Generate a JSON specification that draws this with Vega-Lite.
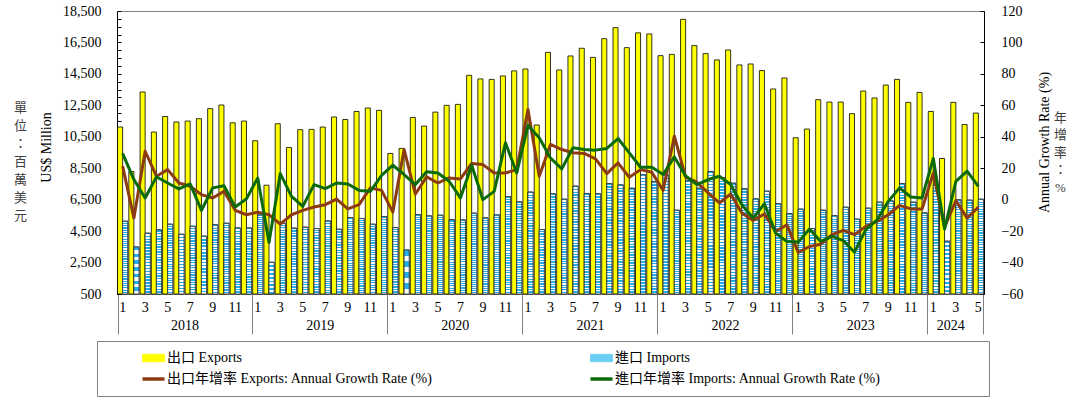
{
  "$schema": "https://vega.github.io/schema/vega-lite/v6.json",
  "width": 867,
  "height": 283,
  "autosize": {"type": "none"},
  "padding": {"left": 117, "top": 11, "right": 82, "bottom": 112},
  "background": "white",
  "config": {
    "font": "Liberation Serif, Noto Sans CJK TC",
    "view": {"stroke": "#808080", "strokeWidth": 1},
    "axis": {
      "labelFont": "Liberation Serif, Noto Sans CJK TC",
      "titleFont": "Liberation Serif, Noto Sans CJK TC",
      "labelFontSize": 14,
      "titleFontSize": 14,
      "labelColor": "black",
      "titleColor": "black",
      "titleFontWeight": "normal",
      "grid": false
    },
    "legend": {
      "labelFont": "Liberation Serif, Noto Sans CJK TC",
      "labelFontSize": 14,
      "labelColor": "black",
      "labelLimit": 600
    }
  },
  "data": {
    "values": [
      {"m": "2018-01", "ex": 11120, "im": 5130, "exg": 21.3, "img": 29.4},
      {"m": "2018-02", "ex": 8290, "im": 3490, "exg": -11.7, "img": 12.8},
      {"m": "2018-03", "ex": 13350, "im": 4370, "exg": 30.8, "img": 1.1},
      {"m": "2018-04", "ex": 10800, "im": 4580, "exg": 14.9, "img": 14.5},
      {"m": "2018-05", "ex": 11790, "im": 4940, "exg": 19.1, "img": 10.6},
      {"m": "2018-06", "ex": 11440, "im": 4300, "exg": 10.6, "img": 6.8},
      {"m": "2018-07", "ex": 11500, "im": 4810, "exg": 8.5, "img": 10.0},
      {"m": "2018-08", "ex": 11650, "im": 4180, "exg": 3.2, "img": -6.8},
      {"m": "2018-09", "ex": 12290, "im": 4900, "exg": 1.1, "img": 7.5},
      {"m": "2018-10", "ex": 12520, "im": 5000, "exg": 5.3, "img": 8.9},
      {"m": "2018-11", "ex": 11390, "im": 4700, "exg": -6.8, "img": -4.7},
      {"m": "2018-12", "ex": 11500, "im": 4700, "exg": -9.6, "img": 0.6},
      {"m": "2019-01", "ex": 10250, "im": 5530, "exg": -7.9, "img": 13.8},
      {"m": "2019-02", "ex": 7420, "im": 2520, "exg": -9.6, "img": -27.2},
      {"m": "2019-03", "ex": 11330, "im": 5000, "exg": -15.5, "img": 16.6},
      {"m": "2019-04", "ex": 9820, "im": 4690, "exg": -9.6, "img": 2.1},
      {"m": "2019-05", "ex": 10950, "im": 4750, "exg": -6.8, "img": -4.3},
      {"m": "2019-06", "ex": 10970, "im": 4660, "exg": -4.7, "img": 9.6},
      {"m": "2019-07", "ex": 11120, "im": 5150, "exg": -3.2, "img": 7.0},
      {"m": "2019-08", "ex": 11760, "im": 4620, "exg": 0.4, "img": 10.6},
      {"m": "2019-09", "ex": 11600, "im": 5360, "exg": -5.9, "img": 10.0},
      {"m": "2019-10", "ex": 12110, "im": 5300, "exg": -3.2, "img": 5.9},
      {"m": "2019-11", "ex": 12330, "im": 4940, "exg": 7.5, "img": 5.3},
      {"m": "2019-12", "ex": 12180, "im": 5420, "exg": 5.9, "img": 15.5},
      {"m": "2020-01", "ex": 9440, "im": 4720, "exg": -7.9, "img": 21.9},
      {"m": "2020-02", "ex": 9760, "im": 3300, "exg": 31.9, "img": 16.0},
      {"m": "2020-03", "ex": 11730, "im": 5550, "exg": 3.6, "img": 9.6},
      {"m": "2020-04", "ex": 11180, "im": 5470, "exg": 14.5, "img": 17.7},
      {"m": "2020-05", "ex": 12070, "im": 5510, "exg": 10.6, "img": 17.0},
      {"m": "2020-06", "ex": 12500, "im": 5230, "exg": 13.8, "img": 11.7},
      {"m": "2020-07", "ex": 12560, "im": 5210, "exg": 13.2, "img": 1.1},
      {"m": "2020-08", "ex": 14410, "im": 5640, "exg": 23.0, "img": 21.9},
      {"m": "2020-09", "ex": 14180, "im": 5340, "exg": 22.3, "img": 0.0},
      {"m": "2020-10", "ex": 14150, "im": 5530, "exg": 17.0, "img": 5.3},
      {"m": "2020-11", "ex": 14370, "im": 6700, "exg": 17.0, "img": 36.2},
      {"m": "2020-12", "ex": 14690, "im": 6360, "exg": 19.1, "img": 17.0},
      {"m": "2021-01", "ex": 14810, "im": 6980, "exg": 57.4, "img": 47.2},
      {"m": "2021-02", "ex": 11250, "im": 4600, "exg": 14.9, "img": 39.4},
      {"m": "2021-03", "ex": 15870, "im": 6870, "exg": 35.1, "img": 26.5},
      {"m": "2021-04", "ex": 14750, "im": 6530, "exg": 31.9, "img": 19.6},
      {"m": "2021-05", "ex": 15640, "im": 7360, "exg": 29.8, "img": 33.0},
      {"m": "2021-06", "ex": 16130, "im": 6890, "exg": 29.4, "img": 31.9},
      {"m": "2021-07", "ex": 15550, "im": 6870, "exg": 26.0, "img": 31.5},
      {"m": "2021-08", "ex": 16740, "im": 7530, "exg": 16.6, "img": 32.6},
      {"m": "2021-09", "ex": 17440, "im": 7440, "exg": 23.4, "img": 38.9},
      {"m": "2021-10", "ex": 16170, "im": 7230, "exg": 14.2, "img": 29.8},
      {"m": "2021-11", "ex": 17110, "im": 8080, "exg": 19.1, "img": 20.6},
      {"m": "2021-12", "ex": 17040, "im": 7650, "exg": 17.4, "img": 20.6},
      {"m": "2022-01", "ex": 15660, "im": 8080, "exg": 5.9, "img": 16.0},
      {"m": "2022-02", "ex": 15740, "im": 5830, "exg": 40.4, "img": 27.2},
      {"m": "2022-03", "ex": 17970, "im": 7700, "exg": 14.3, "img": 15.1},
      {"m": "2022-04", "ex": 16300, "im": 7230, "exg": 11.1, "img": 9.6},
      {"m": "2022-05", "ex": 15790, "im": 8290, "exg": 4.3, "img": 12.8},
      {"m": "2022-06", "ex": 15390, "im": 7900, "exg": -2.1, "img": 14.9},
      {"m": "2022-07", "ex": 16020, "im": 7550, "exg": 3.6, "img": 9.6},
      {"m": "2022-08", "ex": 15070, "im": 7200, "exg": -8.5, "img": -3.2},
      {"m": "2022-09", "ex": 15130, "im": 6550, "exg": -13.2, "img": -11.7},
      {"m": "2022-10", "ex": 14710, "im": 7040, "exg": -9.1, "img": -2.6},
      {"m": "2022-11", "ex": 13540, "im": 6250, "exg": -20.2, "img": -21.3},
      {"m": "2022-12", "ex": 14240, "im": 5620, "exg": -16.0, "img": -26.6},
      {"m": "2023-01", "ex": 10440, "im": 5900, "exg": -33.6, "img": -27.0},
      {"m": "2023-02", "ex": 10990, "im": 4660, "exg": -29.8, "img": -18.7},
      {"m": "2023-03", "ex": 12860, "im": 5830, "exg": -28.3, "img": -26.6},
      {"m": "2023-04", "ex": 12710, "im": 5490, "exg": -22.3, "img": -23.4},
      {"m": "2023-05", "ex": 12710, "im": 6020, "exg": -19.5, "img": -26.0},
      {"m": "2023-06", "ex": 11970, "im": 5260, "exg": -22.3, "img": -33.4},
      {"m": "2023-07", "ex": 13410, "im": 5960, "exg": -17.0, "img": -19.1},
      {"m": "2023-08", "ex": 12970, "im": 6340, "exg": -13.8, "img": -12.8},
      {"m": "2023-09", "ex": 13790, "im": 6420, "exg": -9.6, "img": -1.1},
      {"m": "2023-10", "ex": 14150, "im": 7530, "exg": -3.6, "img": 7.5},
      {"m": "2023-11", "ex": 12690, "im": 6340, "exg": -5.9, "img": 1.7},
      {"m": "2023-12", "ex": 13320, "im": 5660, "exg": -5.9, "img": 1.1},
      {"m": "2024-01", "ex": 12110, "im": 7440, "exg": 17.0, "img": 26.2},
      {"m": "2024-02", "ex": 9120, "im": 3860, "exg": -17.5, "img": -18.7},
      {"m": "2024-03", "ex": 12690, "im": 6490, "exg": -0.6, "img": 11.7},
      {"m": "2024-04", "ex": 11280, "im": 6470, "exg": -11.7, "img": 18.1},
      {"m": "2024-05", "ex": 12010, "im": 6530, "exg": -4.7, "img": 8.5}
    ]
  },
  "layer": [
    {
      "transform": [{"fold": ["ex", "im"], "as": ["s", "v"]}],
      "mark": {"type": "bar", "stroke": "black", "strokeWidth": 0.8},
      "encoding": {
        "x": {
          "field": "m",
          "type": "ordinal",
          "scale": {"paddingInner": 0.1, "paddingOuter": 0.05},
          "axis": {
            "orient": "bottom",
            "title": null,
            "labelAngle": 0,
            "labelExpr": "isString(datum.value) && toNumber(slice(datum.value, 5)) % 2 == 1 ? '' + toNumber(slice(datum.value, 5)) : ''",
            "ticks": false,
            "domain": true,
            "domainColor": "#808080",
            "labelPadding": 6,
            "labelOverlap": false,
            "labelBound": false
          }
        },
        "xOffset": {"field": "s", "scale": {"domain": ["ex", "im"], "paddingInner": 0, "paddingOuter": 0}},
        "y": {
          "field": "v",
          "type": "quantitative",
          "scale": {"domain": [500, 18500], "nice": false, "zero": false},
          "axis": {
            "orient": "left",
            "values": [500, 1000, 1500, 2000, 2500, 3000, 3500, 4000, 4500, 5000, 5500, 6000, 6500, 7000, 7500, 8000, 8500, 9000, 9500, 10000, 10500, 11000, 11500, 12000, 12500, 13000, 13500, 14000, 14500, 15000, 15500, 16000, 16500, 17000, 17500, 18000, 18500],
            "labelExpr": "(datum.value - 500) % 2000 == 0 ? format(datum.value, ',') : ''",
            "tickSize": -4,
            "tickColor": "black",
            "domainColor": "black",
            "labelPadding": 20,
            "labelOverlap": false,
            "title": "US$ Million",
            "titleAngle": -90,
            "titleX": -71,
            "titleY": 136,
            "titleAlign": "center",
            "titleBaseline": "middle"
          }
        },
        "y2": {"datum": 500},
        "color": {
          "field": "s",
          "type": "nominal",
          "scale": {"domain": ["ex", "im", "exg", "img"], "range": ["#FFFF00", "#6CCDF3", "#8C3B10", "#0B6B0B"]},
          "legend": {
            "orient": "none",
            "legendX": -20,
            "legendY": 330,
            "direction": "horizontal",
            "columns": 2,
            "columnPadding": 122,
            "rowPadding": 7,
            "padding": 10,
            "symbolOffset": 39.5,
            "labelOffset": 6.5,
            "title": null,
            "strokeColor": "#808080",
            "symbolSize": 225,
            "symbolType": "M-1.47,-0.5H1.47V0.5H-1.47Z",
            "symbolStrokeWidth": 0.8,
            "labelExpr": "datum.value == 'ex' ? '出口 Exports' : datum.value == 'im' ? '進口 Imports' : datum.value == 'exg' ? '出口年增率 Exports: Annual Growth Rate (%)' : '進口年增率 Imports: Annual Growth Rate (%)\u2003\u2003\u2003\u2003\u2003\u2003\u2003\u200B'",
            "encode": {
              "symbols": {
                "update": {
                  "shape": {"signal": "datum.value == 'ex' || datum.value == 'im' ? 'M-1.47,-0.5H1.47V0.5H-1.47Z' : 'M-1.47,0H1.47'"},
                  "fill": {"signal": "datum.value == 'ex' ? '#FFFF00' : datum.value == 'im' ? '#6CCDF3' : 'transparent'"},
                  "stroke": {"signal": "datum.value == 'ex' ? 'black' : datum.value == 'im' ? '#404040' : datum.value == 'exg' ? '#8C3B10' : '#0B6B0B'"},
                  "strokeWidth": {"signal": "datum.value == 'ex' || datum.value == 'im' ? 0.8 : 3.5"},
                  "opacity": {"value": 1}
                }
              }
            }
          }
        }
      }
    },
    {
      "transform": [{"fold": ["im"], "as": ["s", "v"]}],
      "mark": {
        "type": "bar",
        "stroke": "#404040",
        "strokeWidth": 0.8,
        "fill": {
          "gradient": "linear",
          "x1": 0, "y1": 0, "x2": 0, "y2": 1,
          "stops": [
            {"offset": 0, "color": "#22AEEA"}, {"offset": 0.0125, "color": "#22AEEA"}, {"offset": 0.0125, "color": "#FFFFFF"}, {"offset": 0.025, "color": "#FFFFFF"},
            {"offset": 0.025, "color": "#22AEEA"}, {"offset": 0.0375, "color": "#22AEEA"}, {"offset": 0.0375, "color": "#FFFFFF"}, {"offset": 0.05, "color": "#FFFFFF"},
            {"offset": 0.05, "color": "#22AEEA"}, {"offset": 0.0625, "color": "#22AEEA"}, {"offset": 0.0625, "color": "#FFFFFF"}, {"offset": 0.075, "color": "#FFFFFF"},
            {"offset": 0.075, "color": "#22AEEA"}, {"offset": 0.0875, "color": "#22AEEA"}, {"offset": 0.0875, "color": "#FFFFFF"}, {"offset": 0.1, "color": "#FFFFFF"},
            {"offset": 0.1, "color": "#22AEEA"}, {"offset": 0.1125, "color": "#22AEEA"}, {"offset": 0.1125, "color": "#FFFFFF"}, {"offset": 0.125, "color": "#FFFFFF"},
            {"offset": 0.125, "color": "#22AEEA"}, {"offset": 0.1375, "color": "#22AEEA"}, {"offset": 0.1375, "color": "#FFFFFF"}, {"offset": 0.15, "color": "#FFFFFF"},
            {"offset": 0.15, "color": "#22AEEA"}, {"offset": 0.1625, "color": "#22AEEA"}, {"offset": 0.1625, "color": "#FFFFFF"}, {"offset": 0.175, "color": "#FFFFFF"},
            {"offset": 0.175, "color": "#22AEEA"}, {"offset": 0.1875, "color": "#22AEEA"}, {"offset": 0.1875, "color": "#FFFFFF"}, {"offset": 0.2, "color": "#FFFFFF"},
            {"offset": 0.2, "color": "#22AEEA"}, {"offset": 0.2125, "color": "#22AEEA"}, {"offset": 0.2125, "color": "#FFFFFF"}, {"offset": 0.225, "color": "#FFFFFF"},
            {"offset": 0.225, "color": "#22AEEA"}, {"offset": 0.2375, "color": "#22AEEA"}, {"offset": 0.2375, "color": "#FFFFFF"}, {"offset": 0.25, "color": "#FFFFFF"},
            {"offset": 0.25, "color": "#22AEEA"}, {"offset": 0.2625, "color": "#22AEEA"}, {"offset": 0.2625, "color": "#FFFFFF"}, {"offset": 0.275, "color": "#FFFFFF"},
            {"offset": 0.275, "color": "#22AEEA"}, {"offset": 0.2875, "color": "#22AEEA"}, {"offset": 0.2875, "color": "#FFFFFF"}, {"offset": 0.3, "color": "#FFFFFF"},
            {"offset": 0.3, "color": "#22AEEA"}, {"offset": 0.3125, "color": "#22AEEA"}, {"offset": 0.3125, "color": "#FFFFFF"}, {"offset": 0.325, "color": "#FFFFFF"},
            {"offset": 0.325, "color": "#22AEEA"}, {"offset": 0.3375, "color": "#22AEEA"}, {"offset": 0.3375, "color": "#FFFFFF"}, {"offset": 0.35, "color": "#FFFFFF"},
            {"offset": 0.35, "color": "#22AEEA"}, {"offset": 0.3625, "color": "#22AEEA"}, {"offset": 0.3625, "color": "#FFFFFF"}, {"offset": 0.375, "color": "#FFFFFF"},
            {"offset": 0.375, "color": "#22AEEA"}, {"offset": 0.3875, "color": "#22AEEA"}, {"offset": 0.3875, "color": "#FFFFFF"}, {"offset": 0.4, "color": "#FFFFFF"},
            {"offset": 0.4, "color": "#22AEEA"}, {"offset": 0.4125, "color": "#22AEEA"}, {"offset": 0.4125, "color": "#FFFFFF"}, {"offset": 0.425, "color": "#FFFFFF"},
            {"offset": 0.425, "color": "#22AEEA"}, {"offset": 0.4375, "color": "#22AEEA"}, {"offset": 0.4375, "color": "#FFFFFF"}, {"offset": 0.45, "color": "#FFFFFF"},
            {"offset": 0.45, "color": "#22AEEA"}, {"offset": 0.4625, "color": "#22AEEA"}, {"offset": 0.4625, "color": "#FFFFFF"}, {"offset": 0.475, "color": "#FFFFFF"},
            {"offset": 0.475, "color": "#22AEEA"}, {"offset": 0.4875, "color": "#22AEEA"}, {"offset": 0.4875, "color": "#FFFFFF"}, {"offset": 0.5, "color": "#FFFFFF"},
            {"offset": 0.5, "color": "#22AEEA"}, {"offset": 0.5125, "color": "#22AEEA"}, {"offset": 0.5125, "color": "#FFFFFF"}, {"offset": 0.525, "color": "#FFFFFF"},
            {"offset": 0.525, "color": "#22AEEA"}, {"offset": 0.5375, "color": "#22AEEA"}, {"offset": 0.5375, "color": "#FFFFFF"}, {"offset": 0.55, "color": "#FFFFFF"},
            {"offset": 0.55, "color": "#22AEEA"}, {"offset": 0.5625, "color": "#22AEEA"}, {"offset": 0.5625, "color": "#FFFFFF"}, {"offset": 0.575, "color": "#FFFFFF"},
            {"offset": 0.575, "color": "#22AEEA"}, {"offset": 0.5875, "color": "#22AEEA"}, {"offset": 0.5875, "color": "#FFFFFF"}, {"offset": 0.6, "color": "#FFFFFF"},
            {"offset": 0.6, "color": "#22AEEA"}, {"offset": 0.6125, "color": "#22AEEA"}, {"offset": 0.6125, "color": "#FFFFFF"}, {"offset": 0.625, "color": "#FFFFFF"},
            {"offset": 0.625, "color": "#22AEEA"}, {"offset": 0.6375, "color": "#22AEEA"}, {"offset": 0.6375, "color": "#FFFFFF"}, {"offset": 0.65, "color": "#FFFFFF"},
            {"offset": 0.65, "color": "#22AEEA"}, {"offset": 0.6625, "color": "#22AEEA"}, {"offset": 0.6625, "color": "#FFFFFF"}, {"offset": 0.675, "color": "#FFFFFF"},
            {"offset": 0.675, "color": "#22AEEA"}, {"offset": 0.6875, "color": "#22AEEA"}, {"offset": 0.6875, "color": "#FFFFFF"}, {"offset": 0.7, "color": "#FFFFFF"},
            {"offset": 0.7, "color": "#22AEEA"}, {"offset": 0.7125, "color": "#22AEEA"}, {"offset": 0.7125, "color": "#FFFFFF"}, {"offset": 0.725, "color": "#FFFFFF"},
            {"offset": 0.725, "color": "#22AEEA"}, {"offset": 0.7375, "color": "#22AEEA"}, {"offset": 0.7375, "color": "#FFFFFF"}, {"offset": 0.75, "color": "#FFFFFF"},
            {"offset": 0.75, "color": "#22AEEA"}, {"offset": 0.7625, "color": "#22AEEA"}, {"offset": 0.7625, "color": "#FFFFFF"}, {"offset": 0.775, "color": "#FFFFFF"},
            {"offset": 0.775, "color": "#22AEEA"}, {"offset": 0.7875, "color": "#22AEEA"}, {"offset": 0.7875, "color": "#FFFFFF"}, {"offset": 0.8, "color": "#FFFFFF"},
            {"offset": 0.8, "color": "#22AEEA"}, {"offset": 0.8125, "color": "#22AEEA"}, {"offset": 0.8125, "color": "#FFFFFF"}, {"offset": 0.825, "color": "#FFFFFF"},
            {"offset": 0.825, "color": "#22AEEA"}, {"offset": 0.8375, "color": "#22AEEA"}, {"offset": 0.8375, "color": "#FFFFFF"}, {"offset": 0.85, "color": "#FFFFFF"},
            {"offset": 0.85, "color": "#22AEEA"}, {"offset": 0.8625, "color": "#22AEEA"}, {"offset": 0.8625, "color": "#FFFFFF"}, {"offset": 0.875, "color": "#FFFFFF"},
            {"offset": 0.875, "color": "#22AEEA"}, {"offset": 0.8875, "color": "#22AEEA"}, {"offset": 0.8875, "color": "#FFFFFF"}, {"offset": 0.9, "color": "#FFFFFF"},
            {"offset": 0.9, "color": "#22AEEA"}, {"offset": 0.9125, "color": "#22AEEA"}, {"offset": 0.9125, "color": "#FFFFFF"}, {"offset": 0.925, "color": "#FFFFFF"},
            {"offset": 0.925, "color": "#22AEEA"}, {"offset": 0.9375, "color": "#22AEEA"}, {"offset": 0.9375, "color": "#FFFFFF"}, {"offset": 0.95, "color": "#FFFFFF"},
            {"offset": 0.95, "color": "#22AEEA"}, {"offset": 0.9625, "color": "#22AEEA"}, {"offset": 0.9625, "color": "#FFFFFF"}, {"offset": 0.975, "color": "#FFFFFF"},
            {"offset": 0.975, "color": "#22AEEA"}, {"offset": 0.9875, "color": "#22AEEA"}, {"offset": 0.9875, "color": "#FFFFFF"}, {"offset": 1, "color": "#FFFFFF"}
          ]
        }
      },
      "encoding": {
        "x": {"field": "m", "type": "ordinal", "axis": null},
        "xOffset": {"field": "s"},
        "y": {
          "field": "v",
          "type": "quantitative",
          "scale": {"domain": [500, 18500], "nice": false, "zero": false},
          "axis": {
            "orient": "left",
            "labels": false,
            "ticks": false,
            "domain": false,
            "title": ["單", "位", "：", "百", "萬", "美", "元"],
            "titleAngle": 0,
            "titleX": -97,
            "titleY": 96,
            "titleAlign": "center",
            "titleBaseline": "middle",
            "titleFontSize": 13,
            "titleLineHeight": 18,
            "titleColor": "#404040"
          }
        },
        "y2": {"datum": 500}
      }
    },
    {
      "mark": {"type": "line", "strokeWidth": 3, "strokeJoin": "round"},
      "encoding": {
        "x": {
          "field": "m",
          "type": "ordinal",
          "axis": {
            "orient": "bottom",
            "title": null,
            "domain": false,
            "ticks": true,
            "tickBand": "extent",
            "tickSize": 40,
            "tickWidth": 1,
            "tickColor": {"condition": {"test": "datum.extra || slice(datum.value, 5) == '12' || datum.value == '2024-05'", "value": "#808080"}, "value": "transparent"},
            "labelAngle": 0,
            "labelPadding": -16,
            "labelOffset": -5.62,
            "labelExpr": "!isString(datum.value) ? '' : slice(datum.value, 5) == '07' ? slice(datum.value, 0, 4) : datum.value == '2024-03' ? '\u20032024' : ''",
            "labelOverlap": false,
            "labelBound": false
          }
        },
        "y": {
          "field": "exg",
          "type": "quantitative",
          "scale": {"domain": [-60, 120], "nice": false},
          "axis": {
            "orient": "right",
            "values": [-60, -40, -20, 0, 20, 40, 60, 80, 100, 120],
            "tickSize": -4,
            "tickColor": "black",
            "domainColor": "black",
            "labelPadding": 21,
            "labelOverlap": false,
            "title": "Annual Growth Rate (%)",
            "titleAngle": -90,
            "titleX": 60,
            "titleY": 131,
            "titleAlign": "center",
            "titleBaseline": "middle"
          }
        },
        "color": {
          "datum": "exg",
          "legend": {
            "orient": "none",
            "legendX": -20,
            "legendY": 330,
            "direction": "horizontal",
            "columns": 2,
            "columnPadding": 122,
            "rowPadding": 7,
            "padding": 10,
            "symbolOffset": 39.5,
            "labelOffset": 6.5,
            "title": null,
            "strokeColor": "#808080",
            "symbolSize": 225,
            "symbolType": "M-1.47,-0.5H1.47V0.5H-1.47Z",
            "symbolStrokeWidth": 0.8,
            "labelExpr": "datum.value == 'ex' ? '出口 Exports' : datum.value == 'im' ? '進口 Imports' : datum.value == 'exg' ? '出口年增率 Exports: Annual Growth Rate (%)' : '進口年增率 Imports: Annual Growth Rate (%)\u2003\u2003\u2003\u2003\u2003\u2003\u2003\u200B'",
            "encode": {
              "symbols": {
                "update": {
                  "shape": {"signal": "datum.value == 'ex' || datum.value == 'im' ? 'M-1.47,-0.5H1.47V0.5H-1.47Z' : 'M-1.47,0H1.47'"},
                  "fill": {"signal": "datum.value == 'ex' ? '#FFFF00' : datum.value == 'im' ? '#6CCDF3' : 'transparent'"},
                  "stroke": {"signal": "datum.value == 'ex' ? 'black' : datum.value == 'im' ? '#404040' : datum.value == 'exg' ? '#8C3B10' : '#0B6B0B'"},
                  "strokeWidth": {"signal": "datum.value == 'ex' || datum.value == 'im' ? 0.8 : 3.5"},
                  "opacity": {"value": 1}
                }
              }
            }
          }
        }
      }
    },
    {
      "mark": {"type": "line", "strokeWidth": 3, "strokeJoin": "round"},
      "encoding": {
        "x": {"field": "m", "type": "ordinal", "axis": null},
        "y": {
          "field": "img",
          "type": "quantitative",
          "scale": {"domain": [-60, 120], "nice": false},
          "axis": {
            "orient": "right",
            "labels": false,
            "ticks": false,
            "domain": false,
            "title": ["年", "增", "率", "：", "%"],
            "titleAngle": 0,
            "titleX": 76,
            "titleY": 106,
            "titleAlign": "center",
            "titleBaseline": "middle",
            "titleFontSize": 13,
            "titleLineHeight": 17.5,
            "titleColor": "#404040"
          }
        },
        "color": {
          "datum": "img",
          "legend": {
            "orient": "none",
            "legendX": -20,
            "legendY": 330,
            "direction": "horizontal",
            "columns": 2,
            "columnPadding": 122,
            "rowPadding": 7,
            "padding": 10,
            "symbolOffset": 39.5,
            "labelOffset": 6.5,
            "title": null,
            "strokeColor": "#808080",
            "symbolSize": 225,
            "symbolType": "M-1.47,-0.5H1.47V0.5H-1.47Z",
            "symbolStrokeWidth": 0.8,
            "labelExpr": "datum.value == 'ex' ? '出口 Exports' : datum.value == 'im' ? '進口 Imports' : datum.value == 'exg' ? '出口年增率 Exports: Annual Growth Rate (%)' : '進口年增率 Imports: Annual Growth Rate (%)\u2003\u2003\u2003\u2003\u2003\u2003\u2003\u200B'",
            "encode": {
              "symbols": {
                "update": {
                  "shape": {"signal": "datum.value == 'ex' || datum.value == 'im' ? 'M-1.47,-0.5H1.47V0.5H-1.47Z' : 'M-1.47,0H1.47'"},
                  "fill": {"signal": "datum.value == 'ex' ? '#FFFF00' : datum.value == 'im' ? '#6CCDF3' : 'transparent'"},
                  "stroke": {"signal": "datum.value == 'ex' ? 'black' : datum.value == 'im' ? '#404040' : datum.value == 'exg' ? '#8C3B10' : '#0B6B0B'"},
                  "strokeWidth": {"signal": "datum.value == 'ex' || datum.value == 'im' ? 0.8 : 3.5"},
                  "opacity": {"value": 1}
                }
              }
            }
          }
        }
      }
    }
  ],
  "resolve": {"scale": {"y": "independent"}, "axis": {"x": "independent", "y": "independent"}}
}
